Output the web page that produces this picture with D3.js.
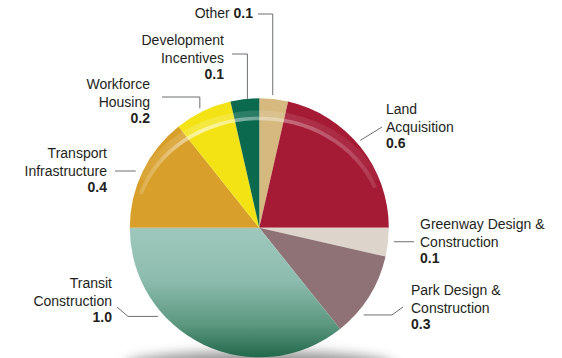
<!DOCTYPE html>
<html>
<head>
<meta charset="utf-8">
<script src="https://cdn.jsdelivr.net/npm/d3@7/dist/d3.min.js"></script>
<style>
  html, body { margin: 0; padding: 0; background: #ffffff; }
  svg { display: block; }
  text { font-family: "Liberation Sans", Arial, Helvetica, sans-serif; font-size: 14px; fill: #231f20; }
</style>
</head>
<body>
<svg id="chart" width="562" height="358"></svg>
<script>
// Spending by category (values in millions), clockwise from 12 o'clock
const categories = [
  "Other",
  "Land Acquisition",
  "Greenway Design & Construction",
  "Park Design & Construction",
  "Transit Construction",
  "Transport Infrastructure",
  "Workforce Housing",
  "Development Incentives"
];
const values = [0.1, 0.6, 0.1, 0.3, 1.0, 0.4, 0.2, 0.1];
const colors = ["#d5b97f", "#a51b36", "#ddd4cc", "#8e7276", "url(#transitFill)", "#d8a02b", "#f3e315", "#0b6a4e"];

// Label layout: text lines, anchor, first-line baseline, leader route
const labelLayout = [
  { lines: ["Other"], inline: true, x: 253, y: 18, anchor: "end", frac: 0.45, rf: 1.03, route: "up", elbowY: 14, endX: 258 },
  { lines: ["Land", "Acquisition"], x: 386, y: 114, anchor: "start", frac: 0.47, rf: 1.03, route: "direct", endX: 382, endY: 127 },
  { lines: ["Greenway Design &", "Construction"], x: 420, y: 229, anchor: "start", frac: 0.46, rf: 1.045, route: "flat", endX: 414 },
  { lines: ["Park Design &", "Construction"], x: 411, y: 295, anchor: "start", frac: 0.70, rf: 1.05, route: "bend", elbowX: 392, endX: 403, endY: 307 },
  { lines: ["Transit", "Construction"], x: 112, y: 288, anchor: "end", frac: 0.68, rf: 1.04, route: "bend", elbowX: 128, endX: 117, endY: 307 },
  { lines: ["Transport", "Infrastructure"], x: 107, y: 158, anchor: "end", frac: 0.48, rf: 1.05, route: "flat", endX: 115 },
  { lines: ["Workforce", "Housing"], x: 150, y: 89, anchor: "end", frac: 0.47, rf: 1.03, route: "up", elbowY: 97, endX: 162 },
  { lines: ["Development", "Incentives"], x: 224, y: 45, anchor: "end", frac: 0.59, rf: 1.0, route: "up", elbowY: 54, endX: 232 }
];

const svg = d3.select("#chart");
const cx = 259.3, cy = 227.8, radius = 129.5;
const fmt = d3.format(".1f");

const defs = svg.append("defs");
// gradients are in the disc group's local coordinates (origin at centre)
const tg = defs.append("linearGradient")
  .attr("id", "transitFill").attr("gradientUnits", "userSpaceOnUse")
  .attr("x1", 0).attr("y1", 0).attr("x2", 0).attr("y2", radius);
tg.append("stop").attr("offset", "0%").attr("stop-color", "#9fc8bd");
tg.append("stop").attr("offset", "40%").attr("stop-color", "#8dbcae");
tg.append("stop").attr("offset", "75%").attr("stop-color", "#5b977f");
tg.append("stop").attr("offset", "100%").attr("stop-color", "#22684b");

const hg = defs.append("linearGradient")
  .attr("id", "glossFill").attr("gradientUnits", "userSpaceOnUse")
  .attr("x1", -radius).attr("y1", 0).attr("x2", radius).attr("y2", 0);
hg.append("stop").attr("offset", "0%").attr("stop-color", "#fff").attr("stop-opacity", 0);
hg.append("stop").attr("offset", "15%").attr("stop-color", "#fff").attr("stop-opacity", 0.25);
hg.append("stop").attr("offset", "30%").attr("stop-color", "#fff").attr("stop-opacity", 0.6);
hg.append("stop").attr("offset", "50%").attr("stop-color", "#fff").attr("stop-opacity", 0.4);
hg.append("stop").attr("offset", "80%").attr("stop-color", "#fff").attr("stop-opacity", 0.22);
hg.append("stop").attr("offset", "100%").attr("stop-color", "#fff").attr("stop-opacity", 0);

defs.append("filter").attr("id", "soft").attr("x", "-20%").attr("y", "-100%").attr("width", "140%").attr("height", "300%")
  .append("feGaussianBlur").attr("stdDeviation", 6);
defs.append("filter").attr("id", "haze")
  .append("feGaussianBlur").attr("stdDeviation", 0.6);

// Drop shadow beneath the disc
svg.append("ellipse")
  .attr("cx", cx).attr("cy", cy + radius + 8)
  .attr("rx", radius * 1.04).attr("ry", 14)
  .attr("fill", "#7a7a7a").attr("opacity", 0.8)
  .attr("filter", "url(#soft)");

const pie = d3.pie().sort(null).value(d => d)(values);
const arc = d3.arc().innerRadius(0).outerRadius(radius);

const g = svg.append("g").attr("transform", `translate(${cx},${cy})`);
g.selectAll("path.slice")
  .data(pie)
  .join("path")
  .attr("class", "slice")
  .attr("d", arc)
  .attr("fill", (d, i) => colors[i]);

// Glossy elliptical highlight across the upper part of the disc
const glossG = g.append("g").attr("transform", "scale(1.14,1)").attr("filter", "url(#haze)");
const glossWide = d3.arc().innerRadius(radius * 0.855).outerRadius(radius * 0.905)
  .startAngle(-Math.PI * 0.36).endAngle(Math.PI * 0.36);
glossG.append("path").attr("d", glossWide()).attr("fill", "url(#glossFill)").attr("opacity", 0.3);
const glossLine = d3.arc().innerRadius(radius * 0.83).outerRadius(radius * 0.858)
  .startAngle(-Math.PI * 0.4).endAngle(Math.PI * 0.38);
glossG.append("path").attr("d", glossLine()).attr("fill", "url(#glossFill)");

// Leader lines
function rimPoint(d, L) {
  const a = d.startAngle + (d.endAngle - d.startAngle) * L.frac;
  const r = radius * L.rf;
  return [cx + r * Math.sin(a), cy - r * Math.cos(a)];
}
const leaders = svg.append("g")
  .attr("fill", "none").attr("stroke", "#6d6e71").attr("stroke-width", 1);
pie.forEach((d, i) => {
  const L = labelLayout[i];
  const p = rimPoint(d, L);
  let pts;
  if (L.route === "up") pts = [p, [p[0], L.elbowY], [L.endX, L.elbowY]];
  else if (L.route === "flat") pts = [p, [L.endX, p[1]]];
  else if (L.route === "direct") pts = [p, [L.endX, L.endY]];
  else pts = [p, [L.elbowX, p[1]], [L.endX, L.endY]];
  leaders.append("path").attr("d", d3.line()(pts));
});

// Category labels with bold values
const lineH = 17.5;
pie.forEach((d, i) => {
  const L = labelLayout[i];
  const t = svg.append("text").attr("text-anchor", L.anchor);
  if (L.inline) {
    t.attr("x", L.x).attr("y", L.y);
    t.append("tspan").text(L.lines[0] + " ");
    t.append("tspan").attr("font-weight", "bold").text(fmt(values[i]));
  } else {
    L.lines.forEach((s, k) => {
      t.append("tspan").attr("x", L.x).attr("y", L.y + k * lineH).text(s);
    });
    t.append("tspan").attr("x", L.x).attr("y", L.y + L.lines.length * lineH - 1)
      .attr("font-weight", "bold").text(fmt(values[i]));
  }
});
</script>
</body>
</html>
